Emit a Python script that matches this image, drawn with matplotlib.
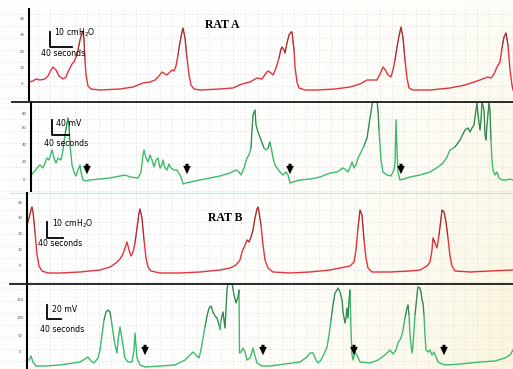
import numpy as np
import matplotlib.pyplot as plt

# traces: x = time position, y = trace level (chart units, larger = lower)
ratA_press_x = [29,33,36,40,45,48,51,53,56,59,63,66,68,70,72,74,76,78,80,82,83,84,85,86,88,91,100,120,133,143,150,155,159,162,165,167,170,172,174,176,178,180,182,183,185,187,189,191,194,200,220,233,242,250,257,262,266,268,271,273,276,279,281,282,284,285,287,289,291,292,294,295,297,299,305,317,335,350,360,367,372,377,380,383,386,388,391,393,395,397,399,401,403,405,407,409,413,430,450,465,480,485,488,491,494,497,500,502,504,506,508,510,512,513]
ratA_press_y = [82,81,79,80,79,76,70,67,70,76,79,77,72,68,64,62,57,50,40,33,31,40,60,75,86,89,90,89,87,83,82,80,76,72,74,75,72,70,71,66,55,42,32,28,38,58,75,85,89,90,89,88,84,82,78,79,73,71,73,75,68,58,49,47,50,53,43,35,32,32,50,67,82,88,90,90,89,87,84,80,80,80,74,67,71,75,77,70,60,47,36,27,38,60,78,88,90,90,88,85,80,78,77,78,74,67,62,48,37,33,45,70,85,90]

ratA_emg_x = [31,34,37,40,43,45,47,49,52,54,56,58,61,63,65,67,68,69,70,72,74,76,78,80,81,83,86,90,100,110,120,125,130,138,141,143,144,146,148,150,152,154,156,158,160,162,163,165,167,169,171,174,177,180,182,183,186,190,200,210,220,230,236,239,241,244,247,249,251,252,253,255,256,258,261,264,266,268,270,272,273,275,277,280,283,286,288,290,293,300,310,320,330,337,340,343,346,348,351,352,354,356,358,361,364,367,369,370,372,373,377,378,379,381,383,387,391,394,395,396,397,398,400,404,410,420,430,438,443,447,450,455,460,465,468,470,472,474,476,477,478,480,481,482,484,485,486,487,489,490,491,492,493,495,497,499,502,506,510,513]
ratA_emg_y = [175,172,168,165,168,163,158,160,150,158,163,158,160,150,135,123,118,125,145,165,172,176,170,165,172,180,181,180,179,178,176,175,177,178,172,155,150,158,162,155,160,167,160,158,168,165,160,168,170,164,168,170,170,175,180,184,183,182,180,178,176,173,170,172,175,168,158,155,148,130,115,110,125,132,140,148,150,148,142,152,158,165,168,172,175,172,175,183,182,180,179,177,173,172,170,168,170,172,165,162,168,165,158,152,146,138,125,118,105,101,101,110,130,160,172,175,176,170,163,120,150,172,180,179,177,175,172,167,163,157,150,147,140,130,128,132,128,125,110,103,115,130,120,102,110,135,140,125,103,110,140,160,170,175,172,178,180,180,179,180]

ratB_press_x = [27,29,31,32,33,35,37,39,42,48,60,80,100,110,116,120,123,125,127,129,131,133,135,137,139,140,142,144,146,148,151,160,180,200,220,230,236,240,242,245,247,249,251,253,255,257,258,259,261,263,265,268,273,290,310,330,345,350,354,356,358,360,362,364,366,368,372,390,410,420,427,430,432,433,435,437,439,440,442,444,446,448,450,452,455,470,490,513]
ratB_press_y = [225,218,210,207,212,232,255,266,271,273,273,272,270,267,263,259,254,248,242,250,256,252,243,228,213,209,218,240,258,267,271,273,273,272,270,268,265,260,252,245,240,242,237,230,218,209,207,212,225,245,260,268,272,273,272,270,267,266,262,250,228,210,215,240,258,268,272,272,271,270,266,262,250,238,243,248,235,227,210,212,222,238,256,266,271,272,271,270]

ratB_emg_x = [29,31,33,36,45,60,80,85,88,91,94,98,100,102,104,106,108,110,111,113,115,117,118,120,121,123,125,128,132,134,135,136,137,140,145,160,175,185,190,193,196,199,201,203,205,207,209,211,213,215,217,219,220,221,223,224,225,226,227,228,230,232,234,236,237,238,239,239.5,241,243,245,247,250,252,253,255,257,262,270,285,300,307,310,313,316,318,321,324,327,329,331,333,335,337,338,340,342,343,345,346,347,348,349,350,351,352,353,355,357,360,370,378,385,390,393,396,398,401,403,405,407,408,409,410,412,413,415,417,418,420,421,422,423,424,425,426,428,430,432,434,436,438,442,446,460,480,495,505,510,513]
ratB_emg_y = [360,356,362,366,366,365,362,359,357,361,363,358,350,335,320,312,310,312,318,332,345,353,340,327,333,345,358,362,362,350,333,345,358,365,367,366,365,360,355,352,355,358,350,338,327,316,308,306,312,316,318,325,330,320,312,320,328,310,290,283,283,283,295,303,300,297,290,353,352,348,352,360,358,352,348,356,363,366,366,364,362,357,353,353,360,363,360,354,347,335,320,305,293,290,288,292,300,312,323,318,308,318,300,290,330,355,360,352,355,362,363,360,355,350,354,350,343,338,330,318,308,305,315,335,353,345,315,295,287,288,292,300,303,315,335,350,352,350,355,352,357,362,364,365,364,362,361,358,355,350]

# arrow markers (time positions)
ratA_arrows = [87, 187, 290, 401]
ratB_arrows = [145, 263, 354, 444]

W, H = 513, 369
fig = plt.figure(figsize=(5.13, 3.69), dpi=100)

# paper tint (slightly yellowed towards the lower right)
bg = fig.add_axes([0, 0, 1, 1], zorder=0)
gx, gy = np.meshgrid(np.linspace(0, 1, 200), np.linspace(0, 1, 150))
w = np.clip((gx ** 3) * (0.25 + 0.75 * gy), 0, 1)[..., None]
img = (1 - w) * np.array([1.0, 1.0, 1.0]) + w * np.array([0.98, 0.96, 0.86])
bg.imshow(img, extent=[0, W, H, 0], aspect='auto')
bg.set_xlim(0, W); bg.set_ylim(H, 0)
bg.axis('off')


def panel(top, bottom, axis_x, ticks, ticklabels):
    ax = fig.add_axes([0, 1 - bottom / H, 1, (bottom - top) / H], zorder=2)
    ax.set_facecolor('none')
    ax.set_xlim(0, W)
    ax.set_ylim(bottom, top)
    for s in ax.spines.values():
        s.set_visible(False)
    ax.set_xticks(np.arange(38, W, 12.2))
    ax.set_yticks(np.arange(top + 6, bottom, 12))
    ax.tick_params(length=0, labelbottom=False, labelleft=False)
    ax.grid(True, color='#d2d2d2', ls=(0, (3, 3)), lw=0.45, alpha=0.75)
    ax.plot([axis_x, axis_x], [top, bottom], color='black', lw=1.5, zorder=5)
    for yy, lab in zip(ticks, ticklabels):
        ax.text(axis_x - 7, yy, lab, fontsize=2.8, color='#555555', ha='center', va='center')
    return ax


ax1 = panel(8, 101, 29, [19, 35, 52, 68, 84], ['40', '30', '20', '10', '0'])
ax2 = panel(101, 192, 31, [114, 128, 145, 162, 180], ['80', '60', '40', '20', '0'])
ax3 = panel(192, 283, 27, [203, 218, 234, 250, 266], ['40', '30', '20', '10', '0'])
ax4 = panel(283, 369, 27, [300, 318, 336, 352], ['150', '100', '50', '0'])

red = '#e2343c'
green = '#3dbb6c'


def trace(ax, x, y, color, thr):
    x = np.array(x, dtype=float); y = np.array(y, dtype=float)
    ax.plot(x, y, color=color, lw=1.0, zorder=3, solid_joinstyle='round')
    ax.plot(x, np.where(y < thr, y, np.nan), color='#3a3030', lw=0.6, alpha=0.5, zorder=4)


trace(ax1, ratA_press_x, ratA_press_y, red, 62)
trace(ax2, ratA_emg_x, ratA_emg_y, green, 150)
trace(ax3, ratB_press_x, ratB_press_y, red, 245)
trace(ax4, ratB_emg_x, ratB_emg_y, green, 330)

# separators
ax2.plot([12, W], [101.5, 101.5], color='#1a1a1a', lw=1.3, zorder=6, clip_on=False)
ax4.plot([10, W], [283.5, 283.5], color='#1a1a1a', lw=1.3, zorder=6, clip_on=False)
ax3.plot([10, W], [192.5, 192.5], color='#9fd6b0', lw=1.0, alpha=0.5, zorder=1, clip_on=False)


def scalebar(ax, x0, y0, dx, dy, vlabel, lx, ly, sx, sy):
    ax.plot([x0, x0, x0 + dx], [y0, y0 + dy, y0 + dy], color='black', lw=1.3, zorder=6)
    ax.text(lx, ly, vlabel, fontsize=5.6, ha='left', va='center', zorder=6)
    ax.text(sx, sy, '40 seconds', fontsize=5.6, ha='left', va='center', zorder=6)


scalebar(ax1, 50, 32, 22, 15, '10 cmH$_2$O', 54, 33, 41, 53)
scalebar(ax2, 52, 120, 17, 15, '40 mV', 56, 123, 44, 143)
scalebar(ax3, 47, 222, 16, 16, '10 cmH$_2$O', 52, 224, 38, 244)
scalebar(ax4, 47, 305, 14, 14, '20 mV', 52, 309, 40, 329)

ax1.text(222, 25, 'RAT A', fontsize=8.5, fontweight='bold', family='Liberation Serif',
         ha='center', va='center', zorder=6)
ax3.text(225, 218, 'RAT B', fontsize=8.5, fontweight='bold', family='Liberation Serif',
         ha='center', va='center', zorder=6)

arrow_style = dict(arrowstyle='simple,head_width=0.55,head_length=0.6,tail_width=0.22',
                   color='black', lw=0)
for xa in ratA_arrows:
    ax2.annotate('', xy=(xa, 177), xytext=(xa, 161), arrowprops=arrow_style, zorder=7)
for xa in ratB_arrows:
    ax4.annotate('', xy=(xa, 358), xytext=(xa, 342), arrowprops=arrow_style, zorder=7)

fig.savefig('out.png', dpi=100)
